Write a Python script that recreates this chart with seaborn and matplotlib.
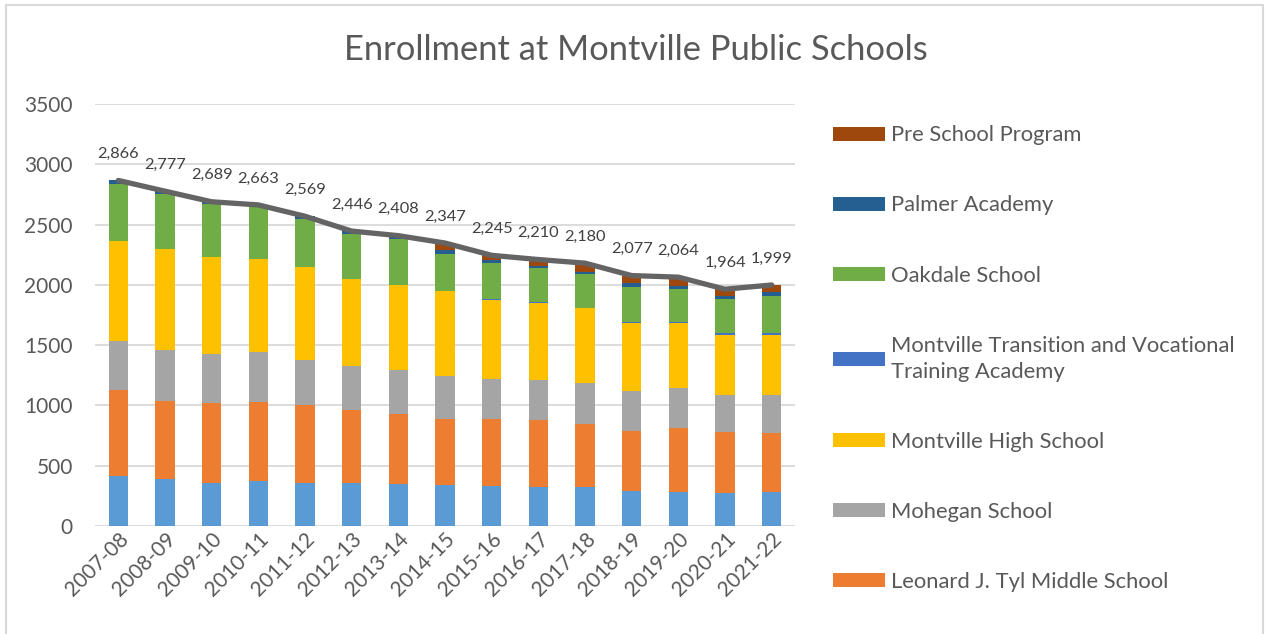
import numpy as np
import pandas as pd
import matplotlib
matplotlib.use("Agg")
import matplotlib.pyplot as plt
from matplotlib.patches import Patch, Rectangle
import seaborn as sns

years = ["2007-08", "2008-09", "2009-10", "2010-11", "2011-12", "2012-13", "2013-14",
         "2014-15", "2015-16", "2016-17", "2017-18", "2018-19", "2019-20", "2020-21", "2021-22"]

murphy = [417, 390, 359, 376, 359, 359, 351, 340, 334, 323, 321, 288, 284, 271, 284]
tyl = [713, 644, 661, 649, 641, 600, 575, 550, 553, 558, 522, 497, 531, 511, 490]
mohegan = [406, 428, 408, 415, 376, 365, 370, 356, 334, 332, 345, 337, 326, 304, 315]
high = [829, 834, 799, 771, 774, 724, 702, 702, 655, 636, 619, 564, 542, 497, 494]
transition = [0, 0, 0, 0, 0, 0, 0, 5, 5, 5, 5, 10, 9, 14, 14]
oakdale = [470, 456, 442, 436, 395, 373, 381, 307, 304, 282, 276, 283, 270, 285, 310]
palmer = [31, 25, 20, 16, 24, 25, 29, 27, 20, 20, 22, 33, 30, 28, 30]
preschool = [0, 0, 0, 0, 0, 0, 0, 60, 40, 54, 70, 65, 72, 54, 62]
totals = [2866, 2777, 2689, 2663, 2569, 2446, 2408, 2347, 2245, 2210, 2180, 2077, 2064, 1964, 1999]

series_names = ["Dr. Charles E. Murphy School", "Leonard J. Tyl Middle School", "Mohegan School",
                "Montville High School", "Montville Transition and Vocational Training Academy",
                "Oakdale School", "Palmer Academy", "Pre School Program"]
series_values = [murphy, tyl, mohegan, high, transition, oakdale, palmer, preschool]
colors = ["#5B9BD5", "#ED7D31", "#A5A5A5", "#FFC000", "#4472C4", "#70AD47", "#255E91", "#9E480E"]

sns.set_theme(style="white")
plt.rcParams["font.family"] = ["Lato", "DejaVu Sans"]

fig = plt.figure(figsize=(12.66, 6.34), dpi=100)
ax = fig.add_axes([0.075, 0.1703, 0.553, 0.6657])

text_col = "#595959"

# stacked bars via cumulative overlay (top series drawn first)
cum = np.cumsum(np.array(series_values, dtype=float), axis=0)
for i in range(len(series_names) - 1, -1, -1):
    df = pd.DataFrame({"year": years, "value": cum[i]})
    sns.barplot(data=df, x="year", y="value", color=colors[i], width=0.41,
                saturation=1, ax=ax, zorder=2 + (len(series_names) - i) * 0.01,
                edgecolor="none", linewidth=0)

# totals line
xpos = np.arange(len(years))
sns.lineplot(x=xpos, y=totals, color="#646464", linewidth=3.8, ax=ax, zorder=5,
             solid_capstyle="round")
for x, t in zip(xpos, totals):
    ax.annotate(f"{t:,}", (x, t), xytext=(0, 14), textcoords="offset points",
                ha="center", va="bottom", fontsize=11.8, color="#404040", zorder=6)

ax.set_ylim(0, 3500)
ax.set_xlim(-0.5, len(years) - 0.5)
ax.set_yticks(np.arange(0, 3501, 500))
ax.yaxis.grid(True, color="#D9D9D9", linewidth=1.3, zorder=0)
ax.set_axisbelow(True)
for s in ax.spines.values():
    s.set_visible(False)
ax.tick_params(axis="y", labelsize=15, colors=text_col, length=0, pad=16)
ax.tick_params(axis="x", labelsize=15, colors=text_col, length=0, pad=2)
ax.set_xticks(xpos)
ax.set_xticklabels(years, rotation=45, ha="right", rotation_mode="anchor")
ax.set_xlabel("")
ax.set_ylabel("")

fig.text(0.502, 0.921, "Enrollment at Montville Public Schools", ha="center", va="center",
         fontsize=24.8, color=text_col)

# legend (reverse order; bottom entry falls outside the visible chart area)
legend_labels = ["Pre School Program", "Palmer Academy", "Oakdale School",
                 "Montville Transition and Vocational\nTraining Academy",
                 "Montville High School", "Mohegan School", "Leonard J. Tyl Middle School"]
legend_colors = colors[::-1][:7]
handles = [Patch(facecolor=c, edgecolor="none") for c in legend_colors]
leg = fig.legend(handles, legend_labels, loc="upper left", bbox_to_anchor=(0.651, 0.816),
                 frameon=False, fontsize=15.8, labelcolor=text_col, handlelength=2.37,
                 handleheight=0.6, handletextpad=0.27, labelspacing=2.28, borderaxespad=0)
for t in leg.get_texts():
    t.set_linespacing(1.39)

# outer chart border
fig.patches.append(Rectangle((0.005, -0.05), 0.993, 1.042, transform=fig.transFigure,
                             fill=False, edgecolor="#D9D9D9", linewidth=1.5))

fig.savefig("out.png", dpi=100, facecolor="white")
